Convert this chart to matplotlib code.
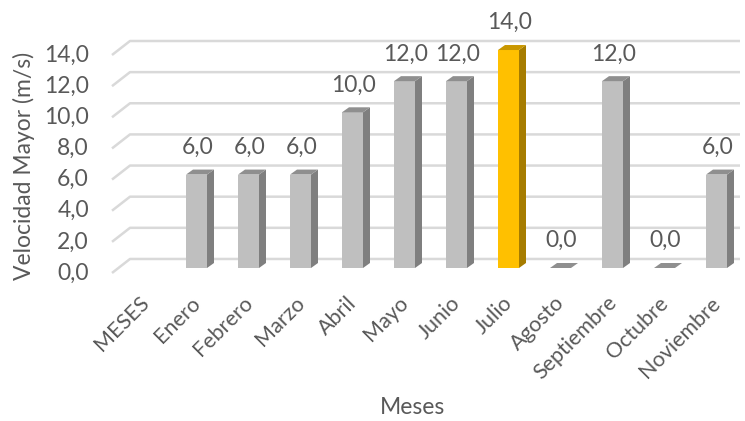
import numpy as np
import matplotlib
matplotlib.use("Agg")
import matplotlib.pyplot as plt
from matplotlib.patches import Polygon, Rectangle
import matplotlib.transforms as mtransforms

plt.rcParams['font.family'] = ['Lato', 'DejaVu Sans']

meses = ["MESES", "Enero", "Febrero", "Marzo", "Abril", "Mayo", "Junio",
         "Julio", "Agosto", "Septiembre", "Octubre", "Noviembre"]
velocidad = [np.nan, 6.0, 6.0, 6.0, 10.0, 12.0, 12.0, 14.0, 0.0, 12.0, 0.0, 6.0]
destacado = "Julio"
yticks = [0, 2, 4, 6, 8, 10, 12, 14]

gris = ('#BFBFBF', '#7F7F7F', '#8F8F8F')
oro = ('#FFC000', '#A67C00', '#C99700')
texto = '#595959'
fs = 16.5

W, H = 745, 421
fig = plt.figure(figsize=(W / 100, H / 100), dpi=100)
# axes box in pixels: left 100, right 745, top 10, bottom 290
ax = fig.add_axes([100 / W, (H - 290) / H, 645 / W, 280 / H])
px_x = 52.0      # pixels per category
px_y = 15.57     # pixels per unit
ax.set_xlim((100 - 144.5) / px_x, (745 - 144.5) / px_x)
ax.set_ylim((268 - 290) / px_y, (268 - 10) / px_y)

# back wall gridlines with the slanted floor edge on the left
x0, x1, x2 = (112 - 144.5) / px_x, (130 - 144.5) / px_x, (740 - 144.5) / px_x
for t in yticks:
    ax.plot([x0, x1, x2], [t - 0.32, t + 0.58, t + 0.58], color='#D9D9D9',
            lw=1.8, solid_capstyle='butt', zorder=1)

w = 21 / px_x
dx = 7 / px_x
dy = 5 / px_y
for i, (m, v) in enumerate(zip(meses, velocidad)):
    if np.isnan(v):
        continue
    front, side, top = oro if m == destacado else gris
    xl, xr = i - w / 2, i + w / 2
    if v > 0:
        ax.add_patch(Polygon([(xr, 0), (xr + dx, dy), (xr + dx, v + dy), (xr, v)],
                             closed=True, fc=side, ec='none', zorder=2))
        ax.add_patch(Rectangle((xl, 0), w, v, fc=front, ec='none', zorder=3))
    ax.add_patch(Polygon([(xl, v), (xr, v), (xr + dx, v + dy), (xl + dx, v + dy)],
                         closed=True, fc=top, ec='none', zorder=3))
    ax.text(i + 0.02, v + 1.75, f"{v:.1f}".replace('.', ','), ha='center',
            va='center', fontsize=fs, color=texto)

ax.set_xticks(range(len(meses)))
ax.set_xticklabels(meses, rotation=45, ha='right', rotation_mode='anchor',
                   fontsize=15.5, color=texto)
ax.set_yticks(yticks)
ax.set_yticklabels([f"{t:.1f}".replace('.', ',') for t in yticks],
                   fontsize=fs, color=texto)
ax.tick_params(axis='both', length=0)
ax.tick_params(axis='y', pad=8)
ax.tick_params(axis='x', pad=2)
off = mtransforms.ScaledTranslation(0, -3 / 100, fig.dpi_scale_trans)
for lab in ax.get_yticklabels():
    lab.set_transform(lab.get_transform() + off)
offx = mtransforms.ScaledTranslation(-6 / 100, 0, fig.dpi_scale_trans)
for lab in ax.get_xticklabels():
    lab.set_transform(lab.get_transform() + offx)
for s in ax.spines.values():
    s.set_visible(False)

ax.set_ylabel("Velocidad Mayor (m/s)", fontsize=fs, color=texto, va='center')
ax.yaxis.set_label_coords((24 - 100) / 645, (290 - 166) / 280)
ax.set_xlabel("Meses", fontsize=fs, color=texto, va='center')
ax.xaxis.set_label_coords((412 - 100) / 645, (290 - 407) / 280)

fig.savefig("out.png", dpi=100)
